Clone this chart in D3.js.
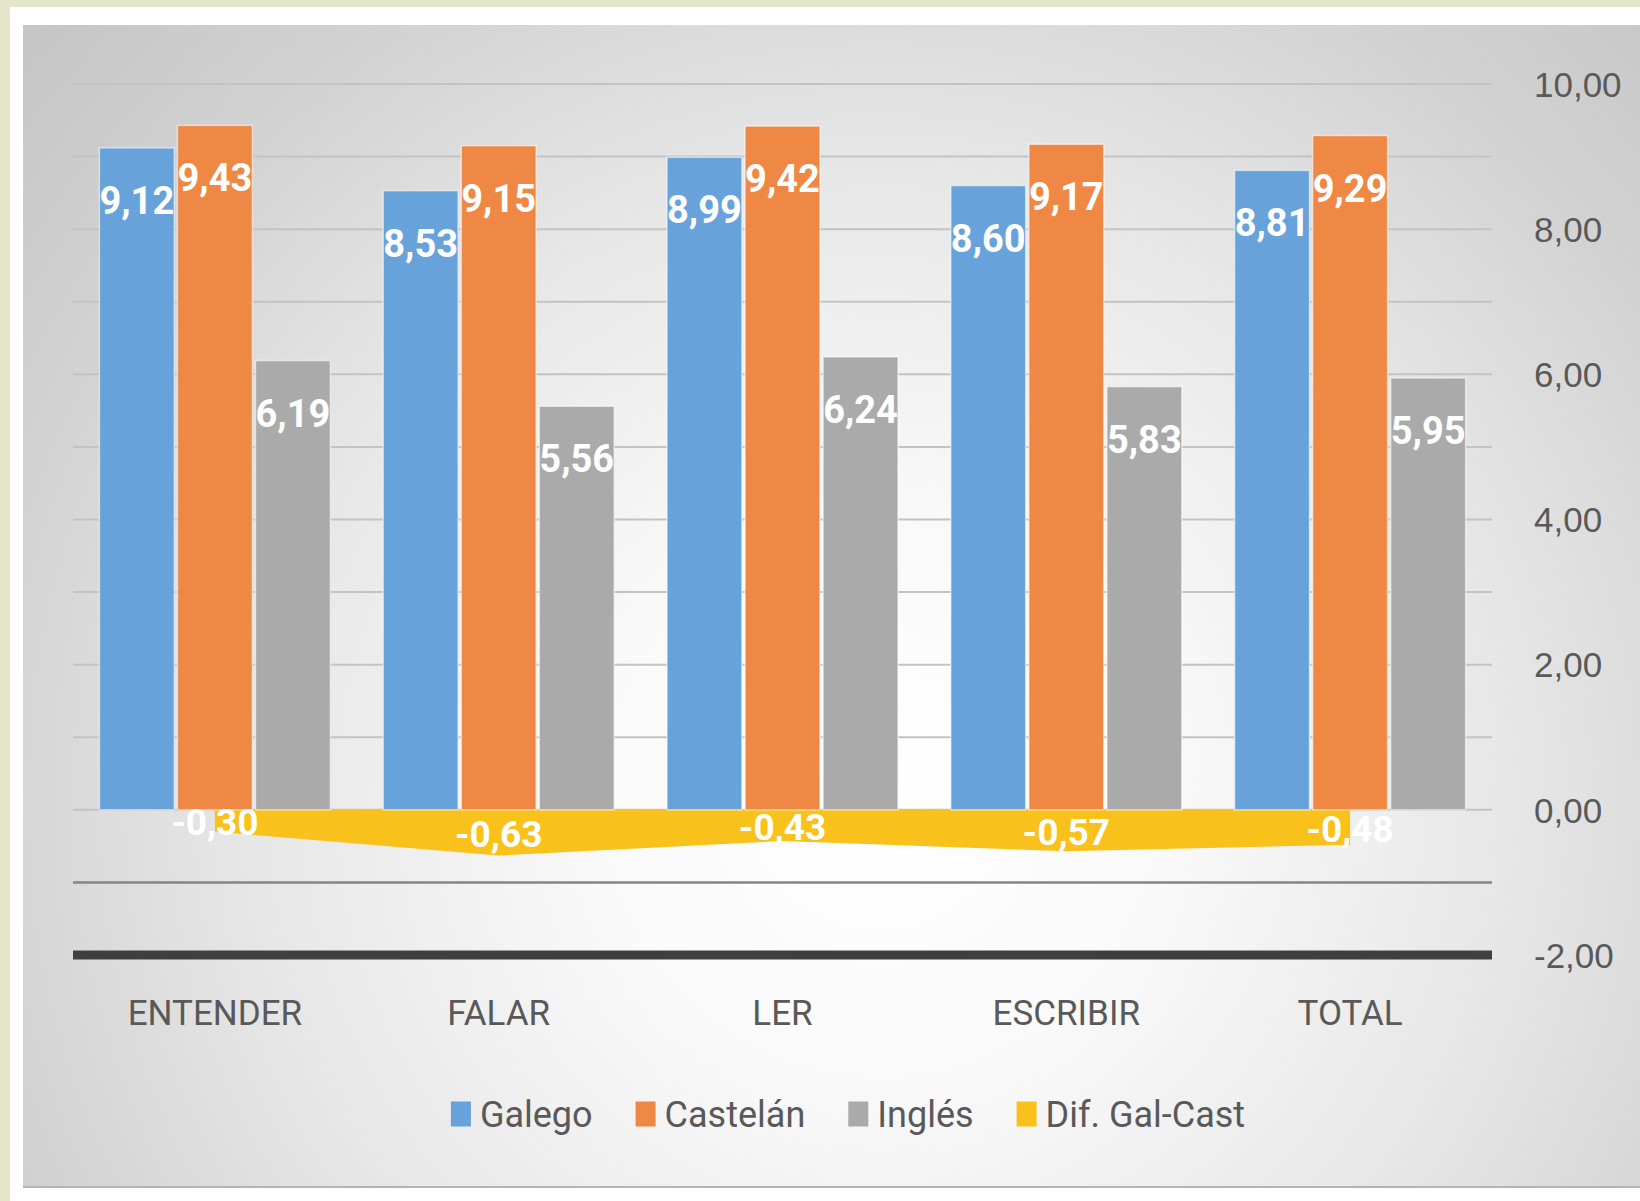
<!DOCTYPE html>
<html>
<head>
<meta charset="utf-8">
<script src="https://cdn.jsdelivr.net/npm/d3@7"></script>
<style>
  html, body { margin: 0; padding: 0; background: #e4e5c9; }
  svg { display: block; }
</style>
</head>
<body>
<svg id="chart" width="1640" height="1201"></svg>
<script>
// ---------- data ----------
const categories = ["ENTENDER", "FALAR", "LER", "ESCRIBIR", "TOTAL"];
const galego   = [9.12, 8.53, 8.99, 8.60, 8.81];
const castelan = [9.43, 9.15, 9.42, 9.17, 9.29];
const ingles   = [6.19, 5.56, 6.24, 5.83, 5.95];
const difGalCast = [-0.30, -0.63, -0.43, -0.57, -0.48];
const seriesNames = ["Galego", "Castelán", "Inglés"];
const legendNames = ["Galego", "Castelán", "Inglés", "Dif. Gal-Cast"];
const yTickValues = [-2, 0, 2, 4, 6, 8, 10];
const gridValues = [-1, 0, 1, 2, 3, 4, 5, 6, 7, 8, 9, 10];

// ---------- styles ----------
const colors = ["#67a3da", "#ee8844", "#aaaaaa", "#f9c11c"];
const labelFont = "Roboto, 'DejaVu Sans Condensed', sans-serif";
const regular = "'Liberation Sans', Arial, sans-serif";

const locale = d3.formatLocale({decimal: ",", thousands: ".", grouping: [3], currency: ["", "€"], minus: "-"});
const fmt = locale.format(".2f");

const svg = d3.select("#chart");
const defs = svg.append("defs");

// background frame
svg.append("rect").attr("x", 0).attr("y", 0).attr("width", 1640).attr("height", 1201).attr("fill", "#e4e5c9");
svg.append("rect").attr("x", 10).attr("y", 7).attr("width", 1630).attr("height", 1194).attr("fill", "#ffffff");

const grad = defs.append("radialGradient").attr("id", "bg")
  .attr("gradientUnits", "userSpaceOnUse")
  .attr("cx", 880).attr("cy", 800).attr("r", 1170);
[[0, "#ffffff"], [0.25, "#f9f9f9"], [0.55, "#e6e6e6"], [0.78, "#d2d2d2"], [1, "#c4c4c4"]]
  .forEach(([o, c]) => grad.append("stop").attr("offset", o).attr("stop-color", c));

svg.append("rect").attr("x", 23).attr("y", 25).attr("width", 1617).attr("height", 1163)
  .attr("fill", "url(#bg)");
svg.append("line").attr("x1", 23).attr("x2", 1640).attr("y1", 1187).attr("y2", 1187)
  .attr("stroke", "#b4b4b4").attr("stroke-width", 2);

// ---------- scales ----------
const plotLeft = 73, plotRight = 1492;
const y = d3.scaleLinear().domain([-2, 10]).range([955, 84]);
const x0 = d3.scaleBand().domain(categories).range([plotLeft, plotRight])
  .paddingInner(0.186).paddingOuter(0.093);
const x1 = d3.scaleBand().domain(seriesNames).range([0, x0.bandwidth()])
  .paddingInner(0.04).paddingOuter(0);

// ---------- gridlines ----------
svg.append("g").selectAll("line").data(gridValues.filter(v => v >= 0)).join("line")
  .attr("x1", plotLeft).attr("x2", plotRight)
  .attr("y1", d => y(d)).attr("y2", d => y(d))
  .attr("stroke", "#c3c3c3").attr("stroke-width", 2);
svg.append("line").attr("x1", plotLeft).attr("x2", plotRight)
  .attr("y1", y(-1)).attr("y2", y(-1))
  .attr("stroke", "#858585").attr("stroke-width", 2.5);
svg.append("line").attr("x1", plotLeft).attr("x2", plotRight)
  .attr("y1", y(-2)).attr("y2", y(-2))
  .attr("stroke", "#3f3f3f").attr("stroke-width", 9);

// ---------- area (Dif. Gal-Cast) ----------
const cx = c => x0(c) + x0.bandwidth() / 2;
const areaData = categories.map((c, i) => ({c, v: difGalCast[i]}));
svg.append("path").datum(areaData)
  .attr("d", d3.area().x(d => cx(d.c)).y0(y(0)).y1(d => y(d.v)))
  .attr("fill", colors[3]);

// ---------- bars ----------
const seriesVals = [galego, castelan, ingles];
const barData = [];
categories.forEach((c, i) => {
  seriesNames.forEach((s, j) => barData.push({c, s, j, v: seriesVals[j][i]}));
});
svg.append("g").selectAll("rect").data(barData).join("rect")
  .attr("x", d => x0(d.c) + x1(d.s))
  .attr("y", d => y(d.v))
  .attr("width", x1.bandwidth())
  .attr("height", d => y(0) - y(d.v))
  .attr("fill", d => colors[d.j])
  .attr("stroke", "rgba(255,255,255,0.55)").attr("stroke-width", 1.5);

// bar labels
svg.append("g").selectAll("text").data(barData).join("text")
  .attr("x", d => x0(d.c) + x1(d.s) + x1.bandwidth() / 2)
  .attr("y", d => y(d.v) + 53)
  .attr("text-anchor", "middle").attr("dominant-baseline", "central")
  .attr("font-family", labelFont).attr("font-weight", "bold").attr("font-size", 38)
  .attr("fill", "#ffffff")
  .text(d => fmt(d.v));

// area labels
svg.append("g").selectAll("text").data(areaData).join("text")
  .attr("x", d => cx(d.c))
  .attr("y", d => y(d.v / 2) + 2)
  .attr("text-anchor", "middle").attr("dominant-baseline", "central")
  .attr("font-family", labelFont).attr("font-weight", "bold").attr("font-size", 37)
  .attr("fill", "#ffffff")
  .text(d => fmt(d.v));

// ---------- axes ----------
const yAxis = svg.append("g").attr("transform", "translate(1534,0)")
  .call(d3.axisRight(y).tickValues(yTickValues).tickFormat(fmt).tickSize(0).tickPadding(0));
yAxis.select(".domain").remove();
yAxis.selectAll("text").attr("x", 0).attr("dy", "0.35em").attr("text-anchor", "start")
  .attr("font-family", regular).attr("font-size", 35).attr("fill", "#595959");

const xAxis = svg.append("g").attr("transform", `translate(0,${y(-2)})`)
  .call(d3.axisBottom(x0).tickSize(0));
xAxis.select(".domain").remove();
xAxis.selectAll("text").attr("y", 58).attr("dy", "0.35em")
  .attr("font-family", labelFont).attr("font-size", 35).attr("fill", "#595959");

// ---------- legend ----------
const legend = svg.append("g");
const items = legend.selectAll("g").data(legendNames).join("g");
items.append("rect").attr("width", 20).attr("height", 25).attr("y", -12.5)
  .attr("fill", (d, i) => colors[i]);
items.append("text").attr("x", 29).attr("dy", "0.35em")
  .attr("font-family", labelFont).attr("font-size", 36).attr("fill", "#595959")
  .text(d => d);
let widths = [];
items.each(function() { widths.push(29 + this.querySelector("text").getComputedTextLength()); });
const gap = 43;
const total = d3.sum(widths) + gap * (widths.length - 1);
let pos = 848 - total / 2;
items.attr("transform", (d, i) => {
  const t = `translate(${pos},1114)`;
  pos += widths[i] + gap;
  return t;
});
</script>
</body>
</html>
